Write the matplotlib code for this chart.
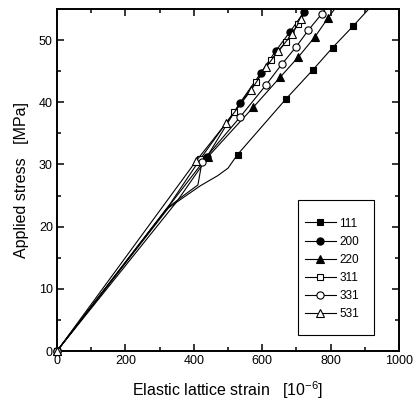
import matplotlib
matplotlib.use("Agg")
import matplotlib.pyplot as plt
from matplotlib.ticker import MultipleLocator
from matplotlib.patches import Rectangle

plt.rcParams['font.family'] = ['Liberation Sans', 'DejaVu Sans']

# lattice strain (1e-6) vs applied stress (MPa) for each reflection
# marked = indices of measured points drawn with a symbol
strain_111 = [0, 320, 370, 420, 470, 500, 528, 669, 748, 806, 865, 925]
stress_111 = [0, 22.8, 24.7, 26.6, 28.2, 29.4, 31.6, 40.5, 45.2, 48.8, 52.2, 55.8]
marked_111 = [0, 6, 7, 8, 9, 10]

strain_200 = [0, 438, 535, 596, 640, 681, 722, 745]
stress_200 = [0, 31.2, 39.9, 44.7, 48.3, 51.3, 54.5, 56.2]
marked_200 = [0, 1, 2, 3, 4, 5, 6]

strain_220 = [0, 350, 441, 574, 652, 706, 754, 793, 820]
stress_220 = [0, 24.0, 31.2, 39.2, 44.0, 47.3, 50.5, 53.6, 55.6]
marked_220 = [0, 2, 3, 4, 5, 6, 7]

strain_311 = [0, 330, 418, 517, 582, 626, 670, 705, 735]
stress_311 = [0, 23.6, 30.8, 38.4, 43.3, 46.8, 49.7, 52.6, 55.3]
marked_311 = [0, 2, 3, 4, 5, 6, 7]

strain_331 = [0, 330, 370, 412, 424, 535, 610, 657, 699, 735, 774, 790]
stress_331 = [0, 23.3, 25.0, 26.7, 30.4, 37.6, 42.7, 46.1, 48.9, 51.6, 54.2, 55.4]
marked_331 = [0, 4, 5, 6, 7, 8, 9, 10]

strain_531 = [0, 406, 494, 567, 611, 646, 687, 713, 735]
stress_531 = [0, 30.5, 36.6, 41.9, 45.6, 48.2, 50.9, 53.4, 55.4]
marked_531 = [0, 1, 2, 3, 4, 5, 6, 7]

series = [
    ('111', strain_111, stress_111, marked_111, 's', 'black'),
    ('200', strain_200, stress_200, marked_200, 'o', 'black'),
    ('220', strain_220, stress_220, marked_220, '^', 'black'),
    ('311', strain_311, stress_311, marked_311, 's', 'white'),
    ('331', strain_331, stress_331, marked_331, 'o', 'white'),
    ('531', strain_531, stress_531, marked_531, '^', 'white'),
]

fig = plt.figure(figsize=(4.17, 4.09), dpi=100)
ax = fig.add_axes([0.1367, 0.1418, 0.8201, 0.8362])

for name, x, y, idx, mk, fc in series:
    ms = 4.5 if mk == 's' else 5.2
    ax.plot(x, y, color='black', lw=0.8, marker=mk, markevery=idx,
            ms=ms, mfc=fc, mec='black', mew=0.8, label=name)
    # first point sits on the axis corner, draw it unclipped
    ax.plot(x[:1], y[:1], ls='none', marker=mk, ms=ms,
            mfc=fc, mec='black', mew=0.8, clip_on=False, zorder=5)

ax.set_xlim(0, 1000)
ax.set_ylim(0, 55)
ax.xaxis.set_major_locator(MultipleLocator(200))
ax.xaxis.set_minor_locator(MultipleLocator(100))
ax.yaxis.set_major_locator(MultipleLocator(10))
ax.yaxis.set_minor_locator(MultipleLocator(5))
ax.tick_params(which='both', direction='in', top=True, right=True,
               width=1.1, labelsize=9, pad=3)
ax.tick_params(which='major', length=5)
ax.tick_params(which='minor', length=3)
for s in ax.spines.values():
    s.set_linewidth(1.4)

ax.set_xlabel('Elastic lattice strain   [10$^{\\mathregular{-6}}$]', fontsize=11.5, labelpad=9)
ax.set_ylabel('Applied stress   [MPa]', fontsize=11.5, labelpad=7)

# legend box drawn separately (taller padding than matplotlib's frame)
ax.add_patch(Rectangle((0.705, 0.047), 0.222, 0.3945, transform=ax.transAxes,
                       fill=True, fc='white', ec='black', lw=0.8, zorder=6))
leg = ax.legend(loc='upper left', bbox_to_anchor=(0.725, 0.39), borderaxespad=0,
                fontsize=8.5, handlelength=2.6, labelspacing=0.52, handletextpad=0.3,
                frameon=False, borderpad=0)
leg.set_zorder(7)

plt.savefig('out.png', dpi=100)
plt.close()
